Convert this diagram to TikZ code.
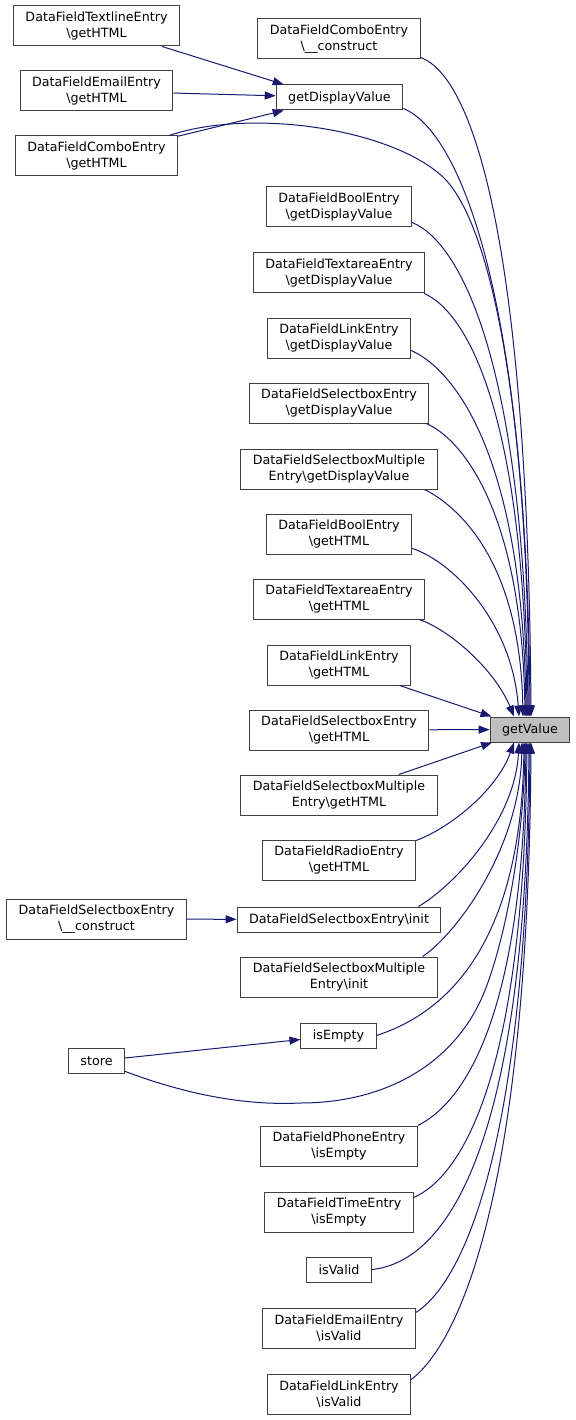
\documentclass[tikz,border=0pt]{standalone}
\usepackage{fontspec}
\setmainfont{DejaVu Sans}
\usetikzlibrary{arrows.meta,calc}
\definecolor{edgeblue}{HTML}{191970}
\definecolor{boxgray}{HTML}{404040}
\definecolor{mainfill}{HTML}{BFBFBF}
\begin{document}
\begin{tikzpicture}[x=1pt,y=1pt,
  box/.style={draw=boxgray, line width=1pt, fill=white, inner xsep=12pt, inner ysep=0pt,
    minimum height=25pt, font=\fontsize{12.7}{15.5}\selectfont, align=center},
  box2/.style={box, minimum height=40pt},
  mainbox/.style={box, fill=mainfill},
  edge/.style={draw=edgeblue, line width=1pt, -{Triangle[length=11pt,width=8pt]}}]
\useasboundingbox (0,0) rectangle (575,-1420);
\fill[white] (0,0) rectangle (575,-1420);

% nodes
\node[mainbox] (gv) at (530,-729.5) {getValue};
\node[box2] (tl) at (96.5,-26) {DataFieldTextlineEntry\\\textbackslash getHTML};
\node[box2] (cec) at (339,-39) {DataFieldComboEntry\\\textbackslash\_\_construct};
\node[box2] (egh) at (96.5,-91) {DataFieldEmailEntry\\\textbackslash getHTML};
\node[box] (gdv) at (339.5,-97.5) {getDisplayValue};
\node[box2] (ceg) at (96.5,-156) {DataFieldComboEntry\\\textbackslash getHTML};
\node[box2] (bgdv) at (339,-207) {DataFieldBoolEntry\\\textbackslash getDisplayValue};
\node[box2] (tagdv) at (339,-273) {DataFieldTextareaEntry\\\textbackslash getDisplayValue};
\node[box2] (lgdv) at (339,-338) {DataFieldLinkEntry\\\textbackslash getDisplayValue};
\node[box2] (sbgdv) at (339,-403) {DataFieldSelectboxEntry\\\textbackslash getDisplayValue};
\node[box2] (sbmgdv) at (339,-469) {DataFieldSelectboxMultiple\\Entry\textbackslash getDisplayValue};
\node[box2] (bgh) at (339,-534) {DataFieldBoolEntry\\\textbackslash getHTML};
\node[box2] (tagh) at (339,-599) {DataFieldTextareaEntry\\\textbackslash getHTML};
\node[box2] (lgh) at (339,-665) {DataFieldLinkEntry\\\textbackslash getHTML};
\node[box2] (sbgh) at (339,-730) {DataFieldSelectboxEntry\\\textbackslash getHTML};
\node[box2] (sbmgh) at (339,-795) {DataFieldSelectboxMultiple\\Entry\textbackslash getHTML};
\node[box2] (rgh) at (339,-860) {DataFieldRadioEntry\\\textbackslash getHTML};
\node[box] (sbinit) at (339,-919.5) {DataFieldSelectboxEntry\textbackslash init};
\node[box2] (sbc) at (96.5,-919) {DataFieldSelectboxEntry\\\textbackslash\_\_construct};
\node[box2] (sbminit) at (339,-977) {DataFieldSelectboxMultiple\\Entry\textbackslash init};
\node[box] (ise) at (338.5,-1035.5) {isEmpty};
\node[box] (store) at (96.5,-1061) {store};
\node[box2] (pie) at (339,-1146) {DataFieldPhoneEntry\\\textbackslash isEmpty};
\node[box2] (tie) at (339,-1212) {DataFieldTimeEntry\\\textbackslash isEmpty};
\node[box] (isv) at (339,-1269.5) {isValid};
\node[box2] (eiv) at (339,-1328) {DataFieldEmailEntry\\\textbackslash isValid};
\node[box2] (liv) at (339,-1394) {DataFieldLinkEntry\\\textbackslash isValid};

% straight edges
\draw[edge] (tl) -- ([xshift=8pt]gdv.north west);
\draw[edge] (egh) -- (gdv);
\draw[edge] (ceg) -- ([xshift=8pt]gdv.south west);
\draw[edge] (sbc) -- (sbinit);
\draw[edge] (store) -- (ise);
\draw[edge] (lgh) -- (gv);
\draw[edge] (sbgh) -- (gv);
\draw[edge] (sbmgh) -- (gv);

% curves into top of getValue
\draw[edge] ([yshift=2pt]cec.south east) .. controls +(55,-20) and +(-3,462) .. ([xshift=1pt]gv.north);
\draw[edge] ([yshift=2pt]gdv.south east) .. controls +(55,-22) and +(-3,426) .. (gv.north);
\draw[edge] ([xshift=-9pt]ceg.north east) .. controls (250,-108) and (390,-128) .. (443,-177)
   .. controls (490,-222) and (528,-400) .. ([xshift=-1pt]gv.north);
\draw[edge] ([yshift=5pt]bgdv.south east) .. controls +(50,-20) and +(-3,346) .. ([xshift=-2pt]gv.north);
\draw[edge] ([xshift=-1pt]tagdv.south east) .. controls +(45,-20) and +(-3,297) .. ([xshift=-3pt]gv.north);
\draw[edge] ([yshift=8pt]lgdv.south east) .. controls +(45,-20) and +(-3,257) .. ([xshift=-4pt]gv.north);
\draw[edge] ([xshift=-3pt]sbgdv.south east) .. controls +(35,-15) and +(-3,206) .. ([xshift=-5pt]gv.north);
\draw[edge] ([xshift=-13pt]sbmgdv.south east) .. controls +(30,-15) and +(-3,160) .. ([xshift=-7pt]gv.north);
\draw[edge] ([yshift=6pt]bgh.south east) .. controls (450,-560) and (512,-620) .. ([xshift=-11pt]gv.north);
\draw[edge] ([xshift=-6pt]tagh.south east) .. controls (450,-630) and (495,-670) .. ([xshift=-16pt]gv.north);

% curves into bottom of getValue
\draw[edge] ([yshift=-1pt]rgh.north east) .. controls (450,-828) and (497,-790) .. ([xshift=-16pt]gv.south);
\draw[edge] ([xshift=-23pt]sbinit.north east) .. controls (455,-885) and (515,-820) .. ([xshift=-11pt]gv.south);
\draw[edge] ([xshift=-15pt]sbminit.north east) .. controls (455,-935) and (520,-850) .. ([xshift=-8pt]gv.south);
\draw[edge] (ise.east) .. controls +(55,18) and +(-3,-220) .. ([xshift=-6pt]gv.south);
\draw[edge] (store.-20) .. controls (180,-1092) and (240,-1106) .. (300,-1103)
   .. controls (390,-1103) and (460,-1060) .. (487,-985)
   .. controls (509,-925) and (524,-830) .. ([xshift=-5pt]gv.south);
\draw[edge] (pie.north east) .. controls +(40,20) and +(-3,-288) .. ([xshift=-4pt]gv.south);
\draw[edge] ([yshift=-6pt]tie.north east) .. controls +(45,20) and +(-3,-342) .. ([xshift=-3pt]gv.south);
\draw[edge] (isv.east) .. controls +(78,8) and +(-3,-395) .. ([xshift=-1pt]gv.south);
\draw[edge] ([yshift=-5pt]eiv.north east) .. controls +(40,25) and +(-3,-428) .. (gv.south);
\draw[edge] ([yshift=-6pt]liv.north east) .. controls +(40,30) and +(-3,-478) .. ([xshift=1pt]gv.south);
\end{tikzpicture}
\end{document}
